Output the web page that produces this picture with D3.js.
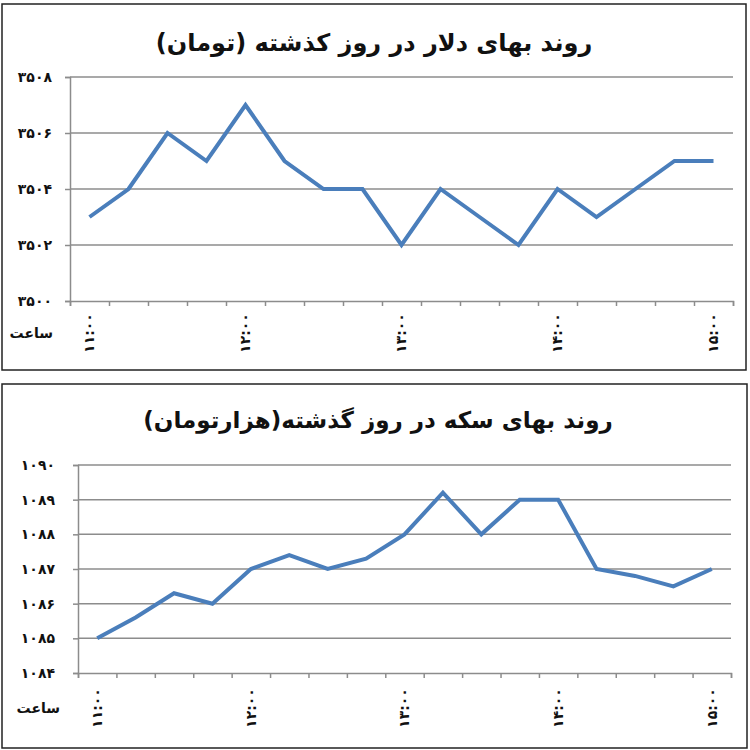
<!DOCTYPE html>
<html><head><meta charset="utf-8">
<script src="https://cdn.jsdelivr.net/npm/d3@7"></script>
<style>body{margin:0;background:#fff;}svg{display:block;}</style>
</head><body>
<script>
// ---- data ----
const times = ["۱۱:۰۰","۱۱:۱۵","۱۱:۳۰","۱۱:۴۵","۱۲:۰۰","۱۲:۱۵","۱۲:۳۰","۱۲:۴۵","۱۳:۰۰","۱۳:۱۵","۱۳:۳۰","۱۳:۴۵","۱۴:۰۰","۱۴:۱۵","۱۴:۳۰","۱۴:۴۵","۱۵:۰۰"];
const shownTimes = ["۱۱:۰۰","۱۲:۰۰","۱۳:۰۰","۱۴:۰۰","۱۵:۰۰"];
const dollarValues = [3503,3504,3506,3505,3507,3505,3504,3504,3502,3504,3503,3502,3504,3503,3504,3505,3505];
const coinValues = [1085,1085.6,1086.3,1086,1087,1087.4,1087,1087.3,1088,1089.2,1088,1089,1089,1087,1086.8,1086.5,1087];
const dollarTicks = [3500,3502,3504,3506,3508];
const coinTicks = [1084,1085,1086,1087,1088,1089,1090];
const dollarTitle = "روند بهای دلار در روز کذشته (تومان)";
const coinTitle = "روند بهای سکه در روز گذشته(هزارتومان)";
const xAxisName = "ساعت";

const fa = d => String(d).replace(/[0-9]/g, c => "۰۱۲۳۴۵۶۷۸۹"[+c]);

const svg = d3.select("body").append("svg").attr("width",750).attr("height",750);

function chart(cfg){
  const g = svg.append("g");
  g.append("rect").attr("x",cfg.frame[0]).attr("y",cfg.frame[1])
    .attr("width",cfg.frame[2]).attr("height",cfg.frame[3])
    .attr("fill","#fff").attr("stroke","#222").attr("stroke-width",1.5);
  g.append("text").attr("x",cfg.titleX).attr("y",cfg.titleY)
    .attr("text-anchor","middle").attr("direction","rtl")
    .attr("font-family",cfg.titleFont).attr("font-weight","bold")
    .attr("font-size",cfg.titleSize).attr("fill","#111").text(cfg.title);

  const x = d3.scaleLinear().domain([0,cfg.values.length]).range([cfg.left,cfg.right]);
  const y = d3.scaleLinear().domain(d3.extent(cfg.ticks)).range([cfg.bottom,cfg.top]);

  // gridlines
  g.append("g").selectAll("line").data(cfg.ticks.slice(1)).join("line")
    .attr("x1",cfg.left).attr("x2",cfg.right)
    .attr("y1",d=>y(d)).attr("y2",d=>y(d))
    .attr("stroke","#8c8c8c").attr("stroke-width",1.5);

  // y axis
  const ya = g.append("g").attr("transform",`translate(${cfg.left},0)`)
    .call(d3.axisLeft(y).tickValues(cfg.ticks).tickSize(5).tickFormat(""));
  ya.selectAll("path,line").attr("stroke","#8c8c8c").attr("stroke-width",1.5);
  g.append("g").selectAll("text").data(cfg.ticks).join("text")
    .attr("x",cfg.labelRight).attr("y",d=>y(d)).attr("dy","0.35em")
    .attr("text-anchor","end").attr("font-family","DejaVu Sans").attr("font-weight","bold")
    .attr("font-size",14).attr("letter-spacing","4px").attr("fill","#111")
    .text(d=>fa(d));

  // x axis
  const xa = g.append("g").attr("transform",`translate(0,${cfg.bottom})`)
    .call(d3.axisBottom(x).tickValues(d3.range(cfg.values.length+1)).tickSize(5).tickFormat(""));
  xa.selectAll("path,line").attr("stroke","#8c8c8c").attr("stroke-width",1.5);

  // x labels (every 4th category)
  const lab = times.map((t,i)=>({t,i})).filter(d=>shownTimes.includes(d.t));
  g.append("g").selectAll("text").data(lab).join("text")
    .attr("transform",d=>`translate(${x(d.i+0.5)},${cfg.xLabelY}) rotate(-90)`)
    .attr("text-anchor","middle").attr("dy","0.35em")
    .attr("font-family","DejaVu Sans").attr("font-weight","bold").attr("font-size",14)
    .attr("letter-spacing","4px").attr("fill","#111").text(d=>d.t);
  g.append("text").attr("x",cfg.nameX).attr("y",cfg.xLabelY).attr("dy","0.35em")
    .attr("text-anchor","end")
    .attr("font-family","DejaVu Sans").attr("font-weight","bold").attr("font-size",14).attr("fill","#111").text(xAxisName);

  // line
  const line = d3.line().x((d,i)=>x(i+0.5)).y(d=>y(d));
  g.append("path").datum(cfg.values).attr("d",line)
    .attr("fill","none").attr("stroke","#4a7ebb").attr("stroke-width",4)
    .attr("stroke-linejoin","miter");
}

chart({frame:[2,4,744,366], title:dollarTitle, titleX:374, titleY:51, titleSize:24, titleFont:"DejaVu Sans",
  values:dollarValues, ticks:dollarTicks, left:70, right:733, top:77, bottom:301,
  labelRight:52, xLabelY:333, nameX:53});
chart({frame:[2,384,745,364], title:coinTitle, titleX:378, titleY:428, titleSize:23, titleFont:"DejaVu Sans",
  values:coinValues, ticks:coinTicks, left:78, right:731, top:465, bottom:673,
  labelRight:55, xLabelY:708, nameX:60});
</script>
</body></html>
